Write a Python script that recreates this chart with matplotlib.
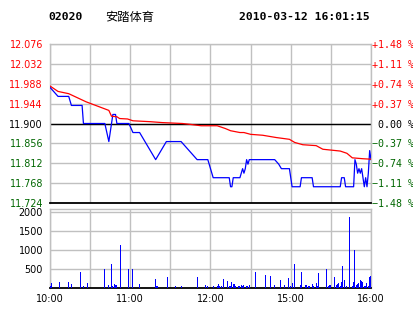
import numpy as np
import matplotlib
matplotlib.use('Agg')
import matplotlib.pyplot as plt

# header
CODE = '02020'
NAME = '安踏体育'
STAMP = '2010-03-12 16:01:15'

PREV_CLOSE = 11.90
PRICE_TICKS = [11.724, 11.768, 11.812, 11.856, 11.900, 11.944, 11.988, 12.032, 12.076]
PCT_LABELS = ['−1.48 %', '−1.11 %', '−0.74 %', '−0.37 %', ' 0.00 %',
              '+0.37 %', '+0.74 %', '+1.11 %', '+1.48 %']

# minutes from 10:00 (morning 10:00-12:30, afternoon 14:30-16:00)
TIME_TICKS = [0, 30, 60, 90, 120, 150, 180, 210, 240]
TIME_LABELS = ['10:00', '', '11:00', '', '12:00', '', '15:00', '', '16:00']

# last price (blue)
price_t = [0, 6, 14, 16, 24, 25, 41, 44, 47, 49, 50, 59, 62, 67, 79, 87, 98,
           110, 118, 122, 134, 135, 136, 137, 142, 143, 144, 145, 146, 147,
           148, 149, 168, 171, 173, 179, 181, 187, 188, 196, 197, 217, 218,
           220, 221, 227, 228, 229, 230, 231, 232, 233, 234, 235, 236, 237,
           238, 239, 240]
price_v = [11.98, 11.96, 11.96, 11.94, 11.94, 11.90, 11.90, 11.86, 11.92,
           11.92, 11.90, 11.90, 11.88, 11.88, 11.82, 11.86, 11.86, 11.82,
           11.82, 11.78, 11.78, 11.76, 11.76, 11.78, 11.78, 11.79, 11.80,
           11.79, 11.80, 11.82, 11.81, 11.82, 11.82, 11.81, 11.80, 11.80,
           11.76, 11.76, 11.78, 11.78, 11.76, 11.76, 11.78, 11.78, 11.76,
           11.76, 11.82, 11.81, 11.79, 11.80, 11.79, 11.80, 11.78, 11.76,
           11.78, 11.76, 11.79, 11.84, 11.82]

# average price (red)
avg_t = [0, 6, 14, 27, 44, 46, 50, 52, 58, 62, 75, 84, 99, 105, 113, 125,
         131, 135, 142, 145, 150, 159, 169, 179, 183, 189, 199, 204, 217,
         222, 226, 234, 240]
avg_v = [11.983, 11.971, 11.966, 11.948, 11.929, 11.916, 11.915, 11.911,
         11.910, 11.906, 11.904, 11.902, 11.900, 11.898, 11.895, 11.895,
         11.889, 11.884, 11.880, 11.880, 11.876, 11.874, 11.869, 11.865,
         11.858, 11.853, 11.851, 11.843, 11.839, 11.834, 11.824, 11.822,
         11.821]

# volume
vol_t = [0, 1, 7, 14, 16, 23, 25, 28, 41, 44, 46, 47, 48, 49, 50, 53, 59, 62,
         67, 79, 80, 88, 94, 98, 110, 116, 118, 122, 125, 126, 127, 128, 130,
         133, 134, 135, 136, 137, 138, 139, 141, 142, 143, 144, 145, 147, 148,
         149, 154, 161, 165, 168, 172, 175, 178, 180, 181, 183, 187, 188, 191,
         192, 193, 194, 196, 197, 199, 200, 201, 207, 208, 209, 210, 213, 214,
         215, 216, 217, 218, 219, 220, 222, 224, 226, 227, 228, 229, 230, 231,
         232, 233, 234, 235, 236, 237, 238, 239, 240]
vol_v = [60, 130, 160, 160, 110, 410, 60, 130, 490, 80, 620, 60, 110, 80, 80,
         1120, 490, 490, 110, 230, 60, 290, 60, 60, 290, 80, 60, 60, 60, 110,
         60, 60, 230, 180, 60, 60, 160, 110, 110, 60, 60, 60, 80, 60, 80, 60,
         60, 80, 410, 340, 310, 80, 210, 80, 260, 60, 130, 640, 80, 410, 80,
         80, 60, 60, 110, 60, 130, 60, 390, 510, 60, 80, 80, 290, 80, 110,
         130, 60, 160, 570, 210, 60, 1880, 60, 160, 1000, 80, 110, 130, 210,
         180, 160, 60, 60, 130, 60, 290, 310]

RED = '#ff0000'
GREEN = '#006600'
GRID = '#c0c0c0'

W, H = 414, 314
fig = plt.figure(figsize=(W / 100, H / 100), dpi=100)
fig.patch.set_facecolor('white')

def box(l, t, r, b):
    return [l / W, 1 - b / H, (r - l) / W, (b - t) / H]

def level_color(v):
    if abs(v - PREV_CLOSE) < 1e-9:
        return 'black'
    return RED if v > PREV_CLOSE else GREEN

ax = fig.add_axes(box(50, 44, 371, 203))
ax.set_xlim(0, 240)
ax.set_ylim(PRICE_TICKS[0], PRICE_TICKS[-1])
ax.set_xticks(TIME_TICKS)
ax.set_xticklabels([])
ax.set_yticks(PRICE_TICKS)
ax.set_yticklabels(['%.3f' % v for v in PRICE_TICKS])
ax.grid(True, color=GRID, lw=1.0)
ax.set_axisbelow(True)
ax.tick_params(length=0, labelsize=6.9, pad=5)
for lab, v in zip(ax.get_yticklabels(), PRICE_TICKS):
    lab.set_color(level_color(v))
for s in ['left', 'top', 'right']:
    ax.spines[s].set_color(GRID)
    ax.spines[s].set_linewidth(1.0)
ax.spines['bottom'].set_color('black')
ax.spines['bottom'].set_linewidth(1.3)
ax.axhline(PREV_CLOSE, color='black', lw=1.0, zorder=2)

ax.plot(price_t, price_v, color='#0000ff', lw=0.9, zorder=3)
ax.plot(avg_t, avg_v, color=RED, lw=0.9, zorder=4)

ax2 = ax.twinx()
ax2.set_ylim(ax.get_ylim())
ax2.set_yticks(PRICE_TICKS)
ax2.set_yticklabels(PCT_LABELS)
ax2.tick_params(length=0, pad=1)
for lab, v in zip(ax2.get_yticklabels(), PRICE_TICKS):
    lab.set_fontfamily('DejaVu Sans Mono')
    lab.set_fontsize(7.2)
    lab.set_color(level_color(v))
for s in ax2.spines.values():
    s.set_visible(False)

# volume panel
axv = fig.add_axes(box(50, 209, 371, 288))
axv.bar(vol_t, vol_v, width=0.75, color='#0000ff', linewidth=0,
        antialiased=False, zorder=3)
axv.set_xlim(0, 240)
axv.set_ylim(0, 2080)
axv.set_yticks([500, 1000, 1500, 2000])
axv.set_xticks(TIME_TICKS)
axv.set_xticklabels(TIME_LABELS)
axv.grid(True, color=GRID, lw=1.0)
axv.set_axisbelow(True)
axv.tick_params(length=0, labelsize=6.9, pad=5)
axv.tick_params(axis='x', pad=4)
for s in ['left', 'top', 'right']:
    axv.spines[s].set_color(GRID)
    axv.spines[s].set_linewidth(1.0)
axv.spines['bottom'].set_color('black')
axv.spines['bottom'].set_linewidth(1.3)

# header texts
fig.text(48 / W, 1 - 17 / H, CODE, fontfamily='DejaVu Sans Mono', fontweight='bold',
         fontsize=8.2, va='center', ha='left')
fig.text(105 / W, 1 - 17 / H, NAME, fontfamily=['Noto Sans CJK SC', 'DejaVu Sans'],
         fontsize=8.8, va='center', ha='left')
fig.text(370 / W, 1 - 17 / H, STAMP, fontfamily='DejaVu Sans Mono', fontweight='bold',
         fontsize=8.2, va='center', ha='right')

fig.savefig('out.png', dpi=100)
